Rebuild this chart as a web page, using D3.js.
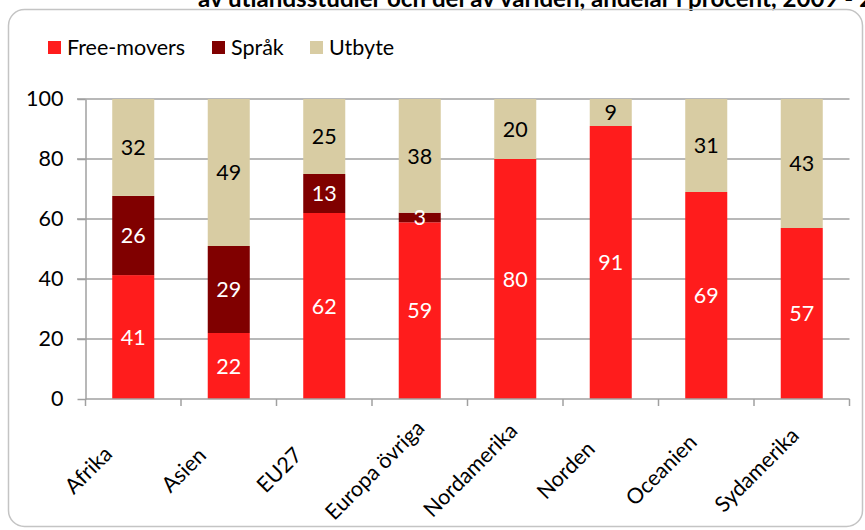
<!DOCTYPE html>
<html><head><meta charset="utf-8">
<script src="https://cdn.jsdelivr.net/npm/d3@7"></script>
<style>
html,body{margin:0;padding:0;background:#fff;}
svg{display:block;font-family:Lato,"Noto Sans",sans-serif;}
</style></head>
<body><svg id="c" width="865" height="530"></svg>
<script>
const titleText = "av utlandsstudier och del av världen, andelar i procent, 2009 - 2010";
const categories = ["Afrika","Asien","EU27","Europa övriga","Nordamerika","Norden","Oceanien","Sydamerika"];
const seriesNames = ["Free-movers","Språk","Utbyte"];
const freeMovers = [41.3, 22, 62, 58.9, 80, 91, 69, 57];
const sprak      = [26.4, 29, 13, 3.2, 0, 0, 0, 0];
const utbyte     = [32.3, 49, 25, 37.9, 20, 9, 31, 43];
const yTicks = [0, 20, 40, 60, 80, 100];
const colors = ["#FF1C1C", "#800000", "#D8CCA3"];
const labelColors = ["#fff", "#fff", "#000"];

const svg = d3.select("#c");

// title (clipped at top)
const title = svg.append("text").attr("x", 198).attr("y", 7)
  .attr("font-weight", "bold").attr("font-size", 24).attr("fill", "#000")
  .text(titleText);
// fit so that "2009" starts near x=783
const prefixLen = titleText.indexOf("2009");
const pw = title.node().getSubStringLength(0, prefixLen);
title.attr("font-size", 24 * 585 / pw);

// frame
svg.append("rect").attr("x", 8.5).attr("y", 9.5).attr("width", 854).attr("height", 517)
  .attr("rx", 16).attr("ry", 16).attr("fill", "none").attr("stroke", "#c4c4c4").attr("stroke-width", 1.5);

const x = d3.scaleBand().domain(categories).range([85.5, 849.5]).paddingInner(0.56).paddingOuter(0.28);
const y = d3.scaleLinear().domain([0, 100]).range([399, 99]);

const fs = 21.5;

// gridlines
svg.append("g").selectAll("line").data(yTicks.filter(d => d > 0)).join("line")
  .attr("x1", 77).attr("x2", 849.5).attr("y1", d => y(d)).attr("y2", d => y(d))
  .attr("stroke", "#a0a0a0").attr("stroke-width", 1.5);

// stacked data
const table = categories.map((c, i) => ({cat: c, "Free-movers": freeMovers[i], "Språk": sprak[i], "Utbyte": utbyte[i]}));
const stack = d3.stack().keys(seriesNames)(table);

const g = svg.append("g");
stack.forEach((layer, si) => {
  g.append("g").selectAll("rect").data(layer).join("rect")
    .attr("x", d => x(d.data.cat)).attr("width", x.bandwidth())
    .attr("y", d => y(d[1])).attr("height", d => y(d[0]) - y(d[1]))
    .attr("fill", colors[si]);
});
stack.forEach((layer, si) => {
  g.append("g").selectAll("text").data(layer.filter(d => d[1] - d[0] > 0)).join("text")
    .attr("x", d => x(d.data.cat) + x.bandwidth() / 2)
    .attr("y", d => (y(d[0]) + y(d[1])) / 2)
    .attr("dy", "0.36em").attr("text-anchor", "middle")
    .attr("font-size", fs).attr("fill", labelColors[si])
    .text(d => d3.format(".0f")(d[1] - d[0]));
});

// y axis
const yAxis = d3.axisLeft(y).tickValues(yTicks).tickSize(8).tickPadding(14).tickSizeOuter(0);
const ya = svg.append("g").attr("transform", "translate(85.5,0)").call(yAxis);
ya.select(".domain").attr("stroke", "#a0a0a0").attr("stroke-width", 1.5);
ya.selectAll(".tick line").attr("stroke", "#a0a0a0").attr("stroke-width", 1.5);
ya.selectAll(".tick text").attr("font-size", fs).attr("font-family", "Lato").attr("fill", "#000");

// x axis line + ticks at band boundaries
const edges = categories.map((c, i) => x.range()[0] + i * x.step()).concat([x.range()[1]]);
svg.append("line").attr("x1", 85.5).attr("x2", 849.5).attr("y1", 399).attr("y2", 399)
  .attr("stroke", "#a0a0a0").attr("stroke-width", 1.5);
svg.append("g").selectAll("line").data(edges).join("line")
  .attr("x1", d => d).attr("x2", d => d).attr("y1", 399).attr("y2", 406)
  .attr("stroke", "#a0a0a0").attr("stroke-width", 1.5);

// x labels
svg.append("g").selectAll("text").data(categories).join("text")
  .attr("transform", d => `translate(${x(d) + x.bandwidth() / 2 - 45},470) rotate(-45)`)
  .attr("text-anchor", "middle").attr("dy", "0.35em")
  .attr("font-size", fs).attr("fill", "#000").text(d => d);

// legend
const legX = [48, 212, 310];
const leg = svg.append("g");
seriesNames.forEach((s, i) => {
  leg.append("rect").attr("x", legX[i]).attr("y", 41).attr("width", 13).attr("height", 13).attr("fill", colors[i]);
  leg.append("text").attr("x", legX[i] + 19).attr("y", 54.5).attr("font-size", fs).attr("fill", "#000").text(s);
});
</script></body></html>
